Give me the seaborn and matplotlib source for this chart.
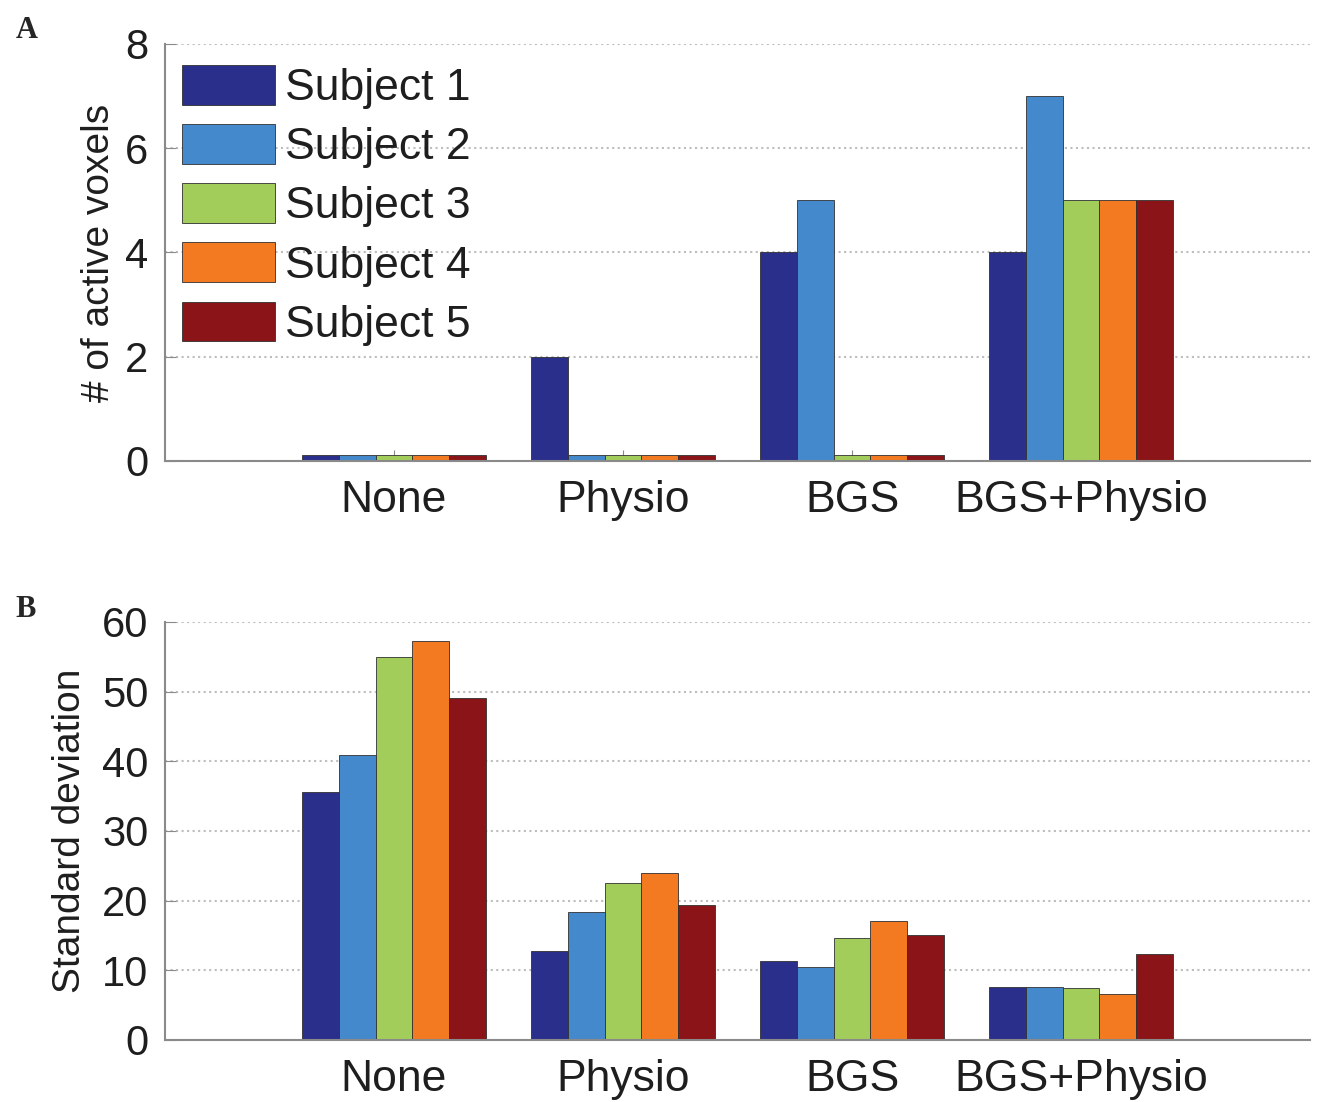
import pandas as pd
import seaborn as sns
import matplotlib.pyplot as plt

# Data
conditions = ["None", "Physio", "BGS", "BGS+Physio"]
subjects = ["Subject 1", "Subject 2", "Subject 3", "Subject 4", "Subject 5"]
colors = ["#2b2f8c", "#4489cb", "#a3cd5b", "#f47a22", "#8a1418"]

# panel A: number of active voxels (zero counts shown as thin slivers, as in the original)
voxels_s1 = [0.12, 2, 4, 4]
voxels_s2 = [0.12, 0.12, 5, 7]
voxels_s3 = [0.12, 0.12, 0.12, 5]
voxels_s4 = [0.12, 0.12, 0.12, 5]
voxels_s5 = [0.12, 0.12, 0.12, 5]

# panel B: standard deviation
sd_s1 = [35.6, 12.7, 11.4, 7.6]
sd_s2 = [40.9, 18.3, 10.5, 7.6]
sd_s3 = [55.0, 22.6, 14.6, 7.4]
sd_s4 = [57.3, 23.9, 17.1, 6.6]
sd_s5 = [49.1, 19.4, 15.1, 12.3]


def long_df(rows):
    recs = []
    for subj, vals in zip(subjects, rows):
        for cond, v in zip(conditions, vals):
            recs.append({"condition": cond, "subject": subj, "value": v})
    return pd.DataFrame(recs)


voxels = long_df([voxels_s1, voxels_s2, voxels_s3, voxels_s4, voxels_s5])
sd = long_df([sd_s1, sd_s2, sd_s3, sd_s4, sd_s5])

sns.set_style("white")
plt.rcParams['font.family'] = ['Liberation Sans', 'DejaVu Sans']

fig = plt.figure(figsize=(13.23, 11.02), dpi=100)
axA = fig.add_axes([0.1247, 0.5817, 0.8655, 0.3784])
axB = fig.add_axes([0.1247, 0.0563, 0.8655, 0.3793])


def style_axis(ax, ylim, yticks, ylabel, labelpad):
    ax.set_xlim(-1, 4)
    ax.set_ylim(*ylim)
    ax.set_yticks(yticks)
    ax.set_xlabel("")
    ax.set_ylabel(ylabel, fontsize=28, color="#1e1e1e", labelpad=labelpad)
    ax.yaxis.grid(True, linestyle=":", color="#bdbdbd", linewidth=1.5)
    ax.set_axisbelow(True)
    for s in ["top", "right"]:
        ax.spines[s].set_visible(False)
    for s in ["left", "bottom"]:
        ax.spines[s].set_color("#8a8a8a")
        ax.spines[s].set_linewidth(1.5)
    ax.tick_params(axis="y", direction="in", length=8, color="#8a8a8a",
                   labelsize=30, labelcolor="#1e1e1e", pad=12, left=True)
    ax.tick_params(axis="x", direction="in", length=8, color="#8a8a8a",
                   labelsize=32, labelcolor="#1e1e1e", pad=14, bottom=True)


sns.barplot(data=voxels, x="condition", y="value", hue="subject",
            palette=colors, ax=axA, width=0.8, edgecolor="#303030",
            linewidth=0.6, saturation=1)
sns.barplot(data=sd, x="condition", y="value", hue="subject",
            palette=colors, ax=axB, width=0.8, edgecolor="#303030",
            linewidth=0.6, saturation=1, legend=False)

style_axis(axA, (0, 8), [0, 2, 4, 6, 8], "# of active voxels", 6)
style_axis(axB, (0, 60), [0, 10, 20, 30, 40, 50, 60], "Standard deviation", 10)

axA.legend(loc="upper left", bbox_to_anchor=(0.015, 0.95), frameon=False,
           fontsize=32, handlelength=2.1, handleheight=1.0,
           labelspacing=0.34, handletextpad=0.22, borderaxespad=0,
           borderpad=0, title=None, labelcolor="#1e1e1e")

fig.text(0.012, 0.972, "A", fontsize=22, fontweight="bold",
         family="Liberation Serif", va="center")
fig.text(0.012, 0.447, "B", fontsize=22, fontweight="bold",
         family="Liberation Serif", va="center")

fig.savefig("out.png", dpi=100)
